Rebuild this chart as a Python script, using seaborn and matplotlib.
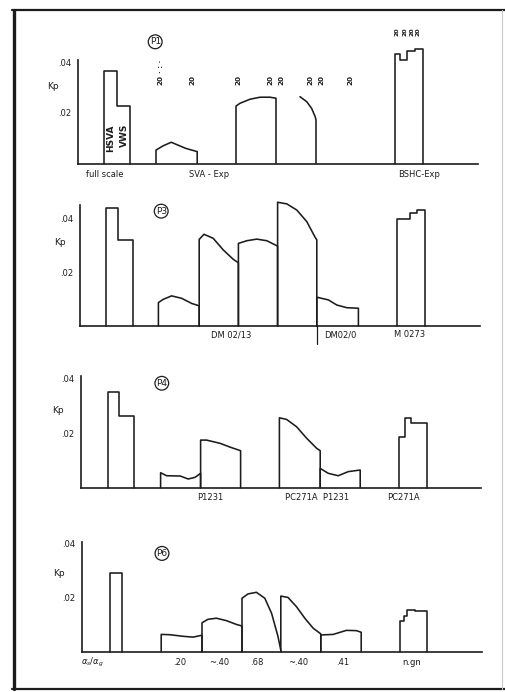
import matplotlib
matplotlib.use('Agg')
import matplotlib.pyplot as plt
from matplotlib.lines import Line2D
import seaborn as sns

# ---- data (Kp vs. position, x in "column" units) ----
# P1
P1_full_edges = [0.66, 0.98, 1.30]
P1_full_kp = [0.0365, 0.0227]
P1_curve_x = [[1.95, 2.13, 2.33, 2.69, 2.98],
              [3.95, 4.05, 4.30, 4.55, 4.80, 4.95]]
P1_curve_kp = [[0.0053, 0.0070, 0.0084, 0.0060, 0.0047],
               [0.0227, 0.0238, 0.0254, 0.0262, 0.0262, 0.0258]]
P1_open_x = [5.55, 5.72, 5.84, 5.93, 5.95]
P1_open_kp = [0.0264, 0.0244, 0.0218, 0.0185, 0.0172]
P1_last_edges = [7.93, 8.05, 8.23, 8.43, 8.62]
P1_last_kp = [0.0433, 0.0408, 0.0446, 0.0453]
P1_labels = ['full scale', 'SVA - Exp', 'BSHC-Exp']
P1_label_x = [0.66, 3.28, 8.53]
P1_angle_x = [2.07, 2.87, 4.01, 4.82, 5.09, 5.82, 6.09, 6.82]
P1_angle_top_x = [7.98, 8.18, 8.35, 8.50]

# P3
P3_full_edges = [0.65, 0.96, 1.32]
P3_full_kp = [0.0438, 0.0320]
P3_curve_x = [[1.96, 2.08, 2.29, 2.54, 2.79, 2.98],
              [2.98, 3.10, 3.33, 3.58, 3.83, 3.96],
              [3.96, 4.17, 4.42, 4.67, 4.94],
              [4.94, 5.17, 5.42, 5.67, 5.87, 5.92],
              [5.92, 6.21, 6.42, 6.67, 6.96]]
P3_curve_kp = [[0.0087, 0.0099, 0.0112, 0.0103, 0.0084, 0.0075],
               [0.0322, 0.0341, 0.0326, 0.0283, 0.0248, 0.0235],
               [0.0307, 0.0317, 0.0323, 0.0317, 0.0297],
               [0.0460, 0.0454, 0.0431, 0.0388, 0.0332, 0.0320],
               [0.0107, 0.0097, 0.0078, 0.0068, 0.0066]]
P3_last_edges = [7.93, 8.25, 8.42, 8.63]
P3_last_kp = [0.0397, 0.0419, 0.0431]
P3_labels = ['DM 02/13', 'DM02/0', 'M 0273']
P3_label_x = [3.77, 6.50, 8.25]

# P4
P4_full_edges = [0.67, 0.96, 1.33]
P4_full_kp = [0.0351, 0.0264]
P4_curve_x = [[1.99, 2.14, 2.48, 2.68, 2.85, 2.99],
              [2.99, 3.14, 3.48, 3.73, 3.99],
              [4.96, 5.14, 5.39, 5.64, 5.89, 5.98],
              [5.98, 6.18, 6.43, 6.68, 6.98]]
P4_curve_kp = [[0.0055, 0.0044, 0.0043, 0.0032, 0.0038, 0.0053],
               [0.0175, 0.0175, 0.0163, 0.0149, 0.0136],
               [0.0257, 0.0251, 0.0224, 0.0182, 0.0145, 0.0136],
               [0.0071, 0.0053, 0.0044, 0.0059, 0.0065]]
P4_last_edges = [7.96, 8.10, 8.24, 8.64]
P4_last_kp = [0.0185, 0.0255, 0.0237]
P4_labels = ['P1231', 'PC271A  P1231', 'PC271A']
P4_label_x = [3.24, 5.89, 8.06]

# P6
P6_full_edges = [0.69, 1.01]
P6_full_kp = [0.0290]
P6_curve_x = [[1.98, 2.19, 2.53, 2.78, 3.00],
              [3.00, 3.15, 3.36, 3.61, 3.86, 4.00],
              [4.00, 4.15, 4.36, 4.57, 4.74, 4.90, 4.97],
              [4.97, 5.15, 5.36, 5.57, 5.78, 5.97],
              [5.97, 6.28, 6.61, 6.86, 6.98]]
P6_curve_kp = [[0.0064, 0.0063, 0.0057, 0.0054, 0.0061],
               [0.0107, 0.0120, 0.0124, 0.0115, 0.0101, 0.0095],
               [0.0198, 0.0214, 0.0220, 0.0198, 0.0142, 0.0056, 0.0006],
               [0.0206, 0.0201, 0.0167, 0.0124, 0.0087, 0.0066],
               [0.0062, 0.0064, 0.0079, 0.0078, 0.0072]]
P6_last_edges = [7.94, 8.05, 8.13, 8.32, 8.63]
P6_last_kp = [0.0114, 0.0133, 0.0156, 0.0150]
P6_labels = [r'$\alpha_s/\alpha_g$', '.20', '~.40', '.68', '~.40', '.41', 'n.gn']
P6_label_x = [0.27, 2.44, 3.44, 4.36, 5.40, 6.52, 8.24]

tick_vals = [0.02, 0.04]
tick_text = ['.02', '.04']

W, H = 505, 692
INK = '#1c1c1c'
LW = 1.15

sns.set_style('white')
plt.rcParams['font.family'] = ['DejaVu Sans']
fig = plt.figure(figsize=(W / 100, H / 100), dpi=100)


def make_axes(left_px, base_px, px_per_unit, ytop, spine_top):
    ax = fig.add_axes([left_px / W, 1 - base_px / H, 400 / W, ytop * px_per_unit / H])
    ax.set_xlim(0, 10)
    ax.set_ylim(0, ytop)
    ax.patch.set_alpha(0)
    sns.despine(ax=ax)
    for s in ['left', 'bottom']:
        ax.spines[s].set_color(INK)
        ax.spines[s].set_linewidth(1.2)
    ax.spines['left'].set_bounds(0, spine_top)
    ax.set_xticks([])
    ax.set_yticks(tick_vals)
    ax.set_yticklabels(tick_text, fontsize=6, color=INK)
    ax.tick_params(axis='y', direction='out', length=4, width=1, pad=1, colors=INK)
    ax.set_xlabel('')
    ax.set_ylabel('')
    return ax


def outline(ax, xs, ys):
    sns.lineplot(x=xs, y=ys, sort=False, estimator=None, ax=ax,
                 color=INK, lw=LW, clip_on=False)


def step_bar(ax, edges, heights):
    xs, ys = [edges[0]], [0]
    for i, h in enumerate(heights):
        xs += [edges[i], edges[i + 1]]
        ys += [h, h]
    xs.append(edges[-1])
    ys.append(0)
    outline(ax, xs, ys)


def curve_bar(ax, x, kp):
    outline(ax, [x[0]] + list(x) + [x[-1]], [0] + list(kp) + [0])


def under(ax, xs, texts, y):
    for x, t in zip(xs, texts):
        ax.text(x, y, t, fontsize=6, ha='center', va='center', color=INK)


def tag(ax, x, y, t):
    ax.text(x, y, t, fontsize=6.5, ha='center', va='center', color=INK,
            bbox=dict(boxstyle='circle,pad=0.15', fc='white', ec=INK, lw=0.9))


panels = [
    dict(left=78, base=163.5, per=2530, ytop=0.052, spine=0.0409,
         full_e=P1_full_edges, full_k=P1_full_kp, cx=P1_curve_x, ck=P1_curve_kp,
         last_e=P1_last_edges, last_k=P1_last_kp, labels=P1_labels, lx=P1_label_x,
         ly=-0.0045, tag=(1.93, 0.0481, 'P1'), kp=(-0.62, 0.0304)),
    dict(left=80, base=326, per=2690, ytop=0.0485, spine=0.0448,
         full_e=P3_full_edges, full_k=P3_full_kp, cx=P3_curve_x, ck=P3_curve_kp,
         last_e=P3_last_edges, last_k=P3_last_kp, labels=P3_labels, lx=P3_label_x,
         ly=-0.0033, tag=(2.03, 0.0427, 'P3'), kp=(-0.50, 0.0309)),
    dict(left=81, base=487.7, per=2720, ytop=0.0437, spine=0.0410,
         full_e=P4_full_edges, full_k=P4_full_kp, cx=P4_curve_x, ck=P4_curve_kp,
         last_e=P4_last_edges, last_k=P4_last_kp, labels=P4_labels, lx=P4_label_x,
         ly=-0.0035, tag=(2.02, 0.0384, 'P4'), kp=(-0.57, 0.0283)),
    dict(left=82, base=651.7, per=2700, ytop=0.0433, spine=0.0407,
         full_e=P6_full_edges, full_k=P6_full_kp, cx=P6_curve_x, ck=P6_curve_kp,
         last_e=P6_last_edges, last_k=P6_last_kp, labels=P6_labels, lx=P6_label_x,
         ly=-0.0041, tag=(2.00, 0.0364, 'P6'), kp=(-0.57, 0.0290)),
]

axes = []
for p in panels:
    ax = make_axes(p['left'], p['base'], p['per'], p['ytop'], p['spine'])
    step_bar(ax, p['full_e'], p['full_k'])
    for x, k in zip(p['cx'], p['ck']):
        curve_bar(ax, x, k)
    step_bar(ax, p['last_e'], p['last_k'])
    under(ax, p['lx'], p['labels'], p['ly'])
    tag(ax, *p['tag'])
    ax.text(p['kp'][0], p['kp'][1], 'Kp', fontsize=6.5, ha='center', va='center', color=INK)
    axes.append(ax)

# panel P1 extras
ax1 = axes[0]
outline(ax1, P1_open_x + [P1_open_x[-1]], P1_open_kp + [0])
ax1.text(0.82, 0.0099, 'HSVA', rotation=90, fontsize=6.5, ha='center', va='center',
         color=INK, fontweight='bold')
ax1.text(1.15, 0.0113, 'VWS', rotation=90, fontsize=6.5, ha='center', va='center',
         color=INK, fontweight='bold')
for x in P1_angle_x:
    ax1.text(x, 0.033, '20', rotation=90, fontsize=5.2, ha='center', va='center',
             color=INK, fontweight='bold')
ax1.text(P1_angle_x[0], 0.0385, '· : ·', rotation=90, fontsize=5, ha='center',
         va='center', color=INK, fontweight='bold')
for x in P1_angle_top_x:
    ax1.text(x, 0.0522, '20', rotation=90, fontsize=4.5, ha='center', va='center',
             color=INK, fontweight='bold')

# small marker tick below P3 baseline
sns.lineplot(x=[P3_curve_x[3][-1], P3_curve_x[3][-1]], y=[0, -0.0068], sort=False,
             estimator=None, ax=axes[1], color=INK, lw=0.9, clip_on=False)

# page frame of the scan
fig.add_artist(Line2D([13.5 / W, 13.5 / W], [1 - 10 / H, 1 - 689 / H], color=INK, lw=2.4))
fig.add_artist(Line2D([12 / W, 1.0], [1 - 10 / H, 1 - 10 / H], color=INK, lw=1.6))
fig.add_artist(Line2D([12 / W, 1.0], [1 - 689 / H, 1 - 689 / H], color=INK, lw=1.6))
fig.add_artist(Line2D([502 / W, 502 / W], [1 - 10 / H, 1 - 689 / H], color='#c8c8c8', lw=0.8))

fig.savefig('out.png', dpi=100)
